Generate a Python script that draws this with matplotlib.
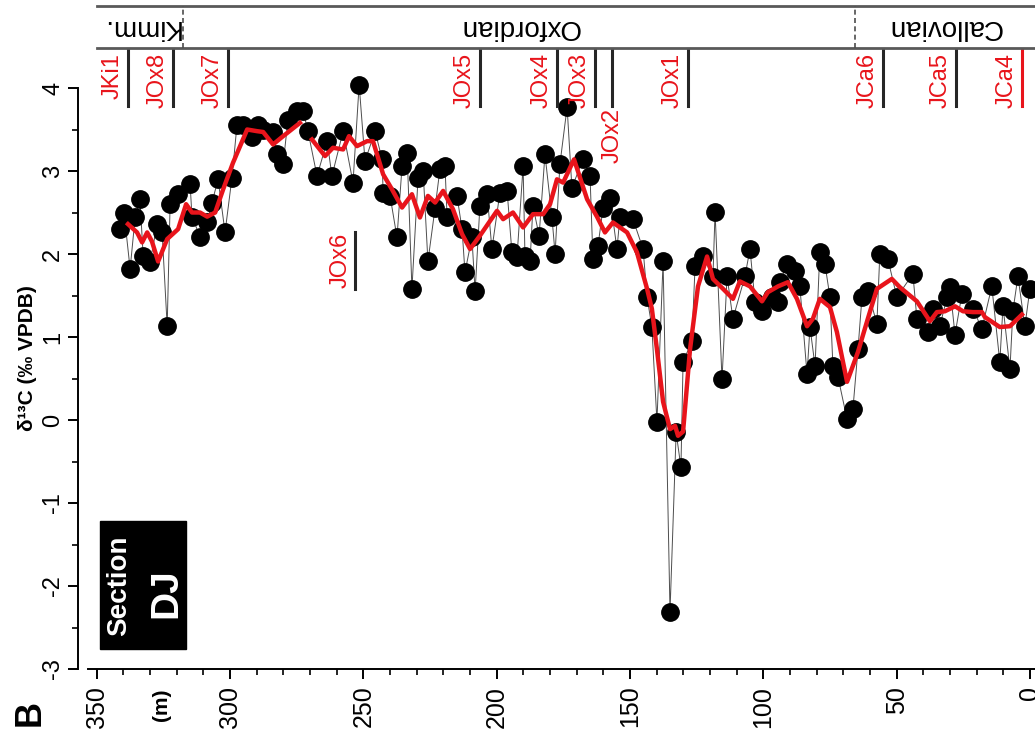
import numpy as np
import matplotlib.pyplot as plt
from matplotlib.patches import Rectangle
from matplotlib.ticker import MultipleLocator

plt.rcParams['font.family'] = ['Liberation Sans', 'DejaVu Sans']
plt.rcParams['axes.unicode_minus'] = False

# carbon isotope samples (depth in m, d13C permil)
depth = [341.3, 339.8, 337.5, 335.6, 333.8, 332.6, 330.0, 327.4, 325.5, 323.6,
         322.5, 319.5, 315.0, 314.3, 311.3, 308.6, 306.8, 304.5, 301.9, 299.3,
         297.4, 295.1, 291.8, 289.5, 287.6, 283.9, 282.4, 280.1, 278.3, 274.9,
         272.6, 270.8, 267.4, 263.6, 261.8, 257.6, 253.9, 251.6, 249.4, 245.6,
         243.0, 242.6, 240.0, 237.4, 235.5, 233.6, 231.8, 229.5, 227.6, 225.8,
         223.1, 221.3, 219.4, 218.6, 214.9, 213.0, 211.9, 209.3, 208.1, 206.3,
         203.6, 201.8, 198.8, 196.1, 194.3, 192.4, 190.1, 189.4, 187.5, 186.4,
         184.1, 181.9, 179.3, 178.1, 176.3, 173.6, 171.8, 167.6, 165.0, 163.9,
         162.0, 160.1, 157.5, 154.9, 153.8, 148.9, 145.1, 143.6, 141.8, 139.9,
         137.6, 135.0, 132.7, 130.9, 130.1, 126.8, 125.6, 122.6, 118.9, 118.1,
         115.5, 113.6, 111.4, 106.9, 105.0, 103.1, 100.5, 96.8, 94.5, 93.8,
         91.1, 88.1, 86.3, 83.6, 82.5, 80.6, 78.8, 76.9, 75.0, 73.9,
         72.0, 68.6, 66.4, 64.5, 63.0, 60.8, 57.4, 56.3, 53.3, 49.9,
         43.9, 42.4, 38.3, 36.4, 33.8, 31.1, 30.0, 28.1, 25.5, 21.4,
         18.0, 14.3, 11.3, 10.1, 7.5, 6.4, 4.5, 1.9, 0.0]
d13c = [2.30, 2.50, 1.82, 2.45, 2.66, 1.97, 1.90, 2.36, 2.26, 1.13,
        2.60, 2.72, 2.84, 2.45, 2.21, 2.39, 2.62, 2.90, 2.26, 2.92,
        3.56, 3.56, 3.41, 3.56, 3.50, 3.47, 3.20, 3.08, 3.62, 3.72,
        3.72, 3.48, 2.94, 3.36, 2.94, 3.48, 2.86, 4.04, 3.12, 3.48,
        3.14, 2.74, 2.70, 2.20, 3.06, 3.22, 1.58, 2.92, 3.00, 1.91,
        2.56, 3.02, 3.06, 2.44, 2.70, 2.30, 1.78, 2.20, 1.55, 2.58,
        2.72, 2.06, 2.74, 2.76, 2.02, 1.96, 3.06, 1.97, 1.91, 2.58,
        2.22, 3.20, 2.45, 2.00, 3.08, 3.77, 2.80, 3.14, 2.94, 1.94,
        2.10, 2.56, 2.68, 2.06, 2.44, 2.42, 2.06, 1.48, 1.12, -0.02,
        1.91, -2.31, -0.15, -0.57, 0.70, 0.95, 1.85, 1.97, 1.72, 2.51,
        0.49, 1.73, 1.22, 1.73, 2.06, 1.42, 1.31, 1.48, 1.42, 1.66,
        1.88, 1.79, 1.61, 0.55, 1.12, 0.65, 2.03, 1.88, 1.48, 0.65,
        0.52, 0.01, 0.13, 0.85, 1.48, 1.55, 1.16, 2.00, 1.94, 1.48,
        1.76, 1.22, 1.06, 1.34, 1.13, 1.48, 1.60, 1.03, 1.52, 1.34,
        1.10, 1.61, 0.70, 1.37, 0.61, 1.31, 1.73, 1.13, 1.58]

# smoothed curve (red)
smooth_depth = [338.3, 334.9, 333.0, 331.1, 329.3, 327.0, 323.6, 319.5, 316.5, 314.3,
                311.3, 308.6, 305.6, 302.6, 298.9, 293.6, 289.9, 287.6, 283.9, 280.1,
                273.8, 271.5,
                269.3, 264.4, 261.4, 257.6, 255.4, 252.4, 248.6, 246.4, 242.6, 239.3,
                235.5, 231.8, 228.8, 225.8, 223.1, 220.1, 216.4, 213.0, 210.0, 206.3,
                199.9, 197.6, 193.9, 190.1, 186.4, 182.6, 180.0, 177.4, 175.1, 171.0,
                166.1, 162.4, 159.4, 156.4, 151.1, 147.4, 143.6, 141.8, 139.9, 137.6,
                135.0, 133.1, 132.0, 130.1, 127.5, 124.5, 121.1, 118.9, 115.1, 111.4,
                108.8, 105.0, 100.5, 98.3, 94.5, 90.8, 87.4, 83.6, 81.4, 78.8,
                75.0, 72.4, 68.6, 64.5, 60.8, 57.4, 51.8, 48.8, 42.4, 37.5,
                34.9, 31.9, 28.1, 25.1, 21.4, 18.0, 16.9, 11.3, 7.5, 3.0]
smooth_d13c = [2.36, 2.26, 2.14, 2.26, 2.15, 1.91, 2.18, 2.30, 2.60, 2.50,
               2.50, 2.45, 2.50, 2.78, 3.10, 3.50, 3.48, 3.47, 3.32, 3.42,
               3.58, np.nan,
               3.38, 3.18, 3.28, 3.26, 3.42, 3.30, 3.36, 3.36, 2.96, 2.78,
               2.56, 2.72, 2.44, 2.70, 2.62, 2.76, 2.54, 2.24, 2.06, 2.22,
               2.52, 2.42, 2.50, 2.32, 2.48, 2.48, 2.60, 2.90, 2.86, 3.14,
               2.66, 2.45, 2.26, 2.38, 2.26, 2.02, 1.58, 1.34, 0.85, 0.22,
               -0.11, -0.07, -0.19, -0.14, 0.85, 1.61, 1.97, 1.70, 1.58, 1.46,
               1.67, 1.61, 1.43, 1.54, 1.61, 1.66, 1.46, 1.13, 1.22, 1.46,
               1.36, 1.06, 0.46, 0.82, 1.22, 1.58, 1.70, 1.60, 1.43, 1.19,
               1.30, 1.31, 1.37, 1.31, 1.30, 1.30, 1.24, 1.12, 1.13, 1.27]

stage_names = ['Kimm.', 'Oxfordian', 'Callovian']
stage_edges = [349.9, 317.6, 65.6, -1.9]

zone_names = ['JKi1', 'JOx8', 'JOx7', 'JOx5', 'JOx4', 'JOx3', 'JOx1', 'JCa6', 'JCa5', 'JCa4']
zone_depths = [338.2, 321.4, 300.7, 206.2, 177.4, 163.1, 128.2, 55.1, 27.7, 3.0]

red = '#e8141b'
W, H = 1035, 742

fig = plt.figure(figsize=(W / 100, H / 100), dpi=100)
ax = fig.add_axes([88 / W, 73 / H, 947 / W, 621 / H])

ax.plot(depth, d13c, color='0.3', lw=0.7, zorder=2)
ax.plot(depth, d13c, 'o', color='black', ms=12.5, zorder=3)
ax.plot(smooth_depth, smooth_d13c, color=red, lw=3.2, zorder=4)

ax.set_xlim(353.3, -1.9)
ax.set_ylim(-3, 4.482)

for s in ['top', 'right']:
    ax.spines[s].set_visible(False)
ax.spines['left'].set_bounds(-3, 4)
ax.spines['left'].set_position(('outward', 7.2))
ax.spines['left'].set_linewidth(1.4)
ax.spines['bottom'].set_linewidth(1.4)

ax.set_yticks(range(-3, 5))
ax.yaxis.set_minor_locator(MultipleLocator(0.5))
ax.set_xticks(range(0, 351, 50))
ax.xaxis.set_minor_locator(MultipleLocator(10))
ax.tick_params(axis='both', which='major', length=7, width=1.4, labelsize=18)
ax.tick_params(axis='both', which='minor', length=4, width=1.2)
ax.tick_params(axis='y', labelrotation=90, pad=3, labelsize=17)
ax.tick_params(axis='x', labelrotation=90, pad=5)
for t in ax.get_yticklabels():
    t.set_va('center')

ax.set_ylabel('δ¹³C (‰ VPDB)', fontsize=15, fontweight='bold', labelpad=4)

# zone markers along the top
for name, d in zip(zone_names, zone_depths):
    c = red if name == 'JCa4' else '0.15'
    ax.plot([d, d], [4.47, 3.78], color=c, lw=2.2, clip_on=False, zorder=5)
    ax.annotate(name, (d, 4.47), xytext=(-3, -3), textcoords='offset points',
                rotation=90, ha='right', va='top', color=red, fontsize=17,
                annotation_clip=False)
# JOx2 label under its line, JOx6 lower in the plot
ax.plot([156.7, 156.7], [4.47, 3.78], color='0.15', lw=2.2, clip_on=False, zorder=5)
ax.annotate('JOx2', (156.7, 3.76), rotation=90, ha='center', va='top',
            color=red, fontsize=17)
ax.plot([253.0, 253.0], [2.26, 1.58], color='0.15', lw=2.2, zorder=5)
ax.annotate('JOx6', (253.0, 2.26), xytext=(-3, 0), textcoords='offset points',
            rotation=90, ha='right', va='top', color=red, fontsize=17)

# section box
ax.add_patch(Rectangle((348.75, -2.756), -32.25, 1.54, color='black', zorder=6))
ax.text(341.5, -2.0, 'Section', rotation=90, ha='center', va='center',
        color='white', fontsize=20, fontweight='bold', zorder=7)
ax.text(324.0, -2.09, 'DJ', rotation=90, ha='center', va='center',
        color='white', fontsize=28, fontweight='bold', zorder=7)

# stage band
band = fig.add_axes([88 / W, (H - 48) / H, 947 / W, 42 / H])
band.set_xlim(353.3, -1.9)
band.set_ylim(0, 1)
band.axis('off')
band.plot([stage_edges[0], stage_edges[-1]], [1, 1], color='0.35', lw=2, clip_on=False)
band.plot([stage_edges[0], stage_edges[-1]], [0, 0], color='0.35', lw=2, clip_on=False)
for e in stage_edges[1:-1]:
    band.plot([e, e], [0, 1], color='0.3', lw=1.2, ls=(0, (3, 2)))
for i, name in enumerate(stage_names):
    mid = (stage_edges[i] + stage_edges[i + 1]) / 2
    band.text(mid, 0.5, name, rotation=180, ha='center', va='center', fontsize=20)

fig.text(162 / W, 1 - 705 / H, '(m)', rotation=90, ha='center', va='center',
         fontsize=15, fontweight='bold')
fig.text(30 / W, 1 - 713 / H, 'B', rotation=90, ha='center', va='center',
         fontsize=26, fontweight='bold')

fig.savefig('out.png', dpi=100)
